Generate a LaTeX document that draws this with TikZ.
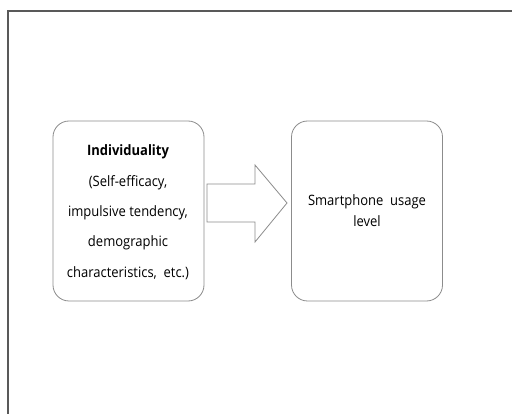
\documentclass[tikz,border=0pt]{standalone}
\usepackage{fontspec}
\setmainfont{Open Sans}
\begin{document}
\begin{tikzpicture}[x=1pt,y=-1pt,
  box/.style={draw=black!45,line width=0.8pt,rounded corners=16pt,minimum width=151pt,minimum height=180pt,inner sep=0pt},
  txt/.style={font=\fontsize{13}{15}\selectfont,align=center,inner sep=0pt,yscale=1.1,transform shape}]
\useasboundingbox (0,0) rectangle (512,414);
\fill[white] (0,0) rectangle (512,414);
\draw[black!65,line width=1.2pt] (8,414) -- (8,11) -- (512,11);
\node[box] (L) at (128.5,211) {};
\node[box] (R) at (367,211) {};
\node[txt,font=\fontsize{13}{15}\selectfont\bfseries] (t1) at (128,152) {Individuality};
\node[txt] (t2) at (128,183) {(Self-efficacy,};
\node[txt] (t3) at (128,213) {impulsive tendency,};
\node[txt] (t4) at (128,243) {demographic};
\node[txt] (t5) at (128,273) {characteristics,\ \ etc.)};
\node[txt] (t6a) at (367,202) {Smartphone\ \ usage};
\node[txt] (t6b) at (367,221) {level};
\draw[black!45,line width=0.8pt,fill=white]
  (207,184) -- (255,184) -- (255,165) -- (287,203) -- (255,242) -- (255,222) -- (207,222) -- cycle;
\end{tikzpicture}
\end{document}
